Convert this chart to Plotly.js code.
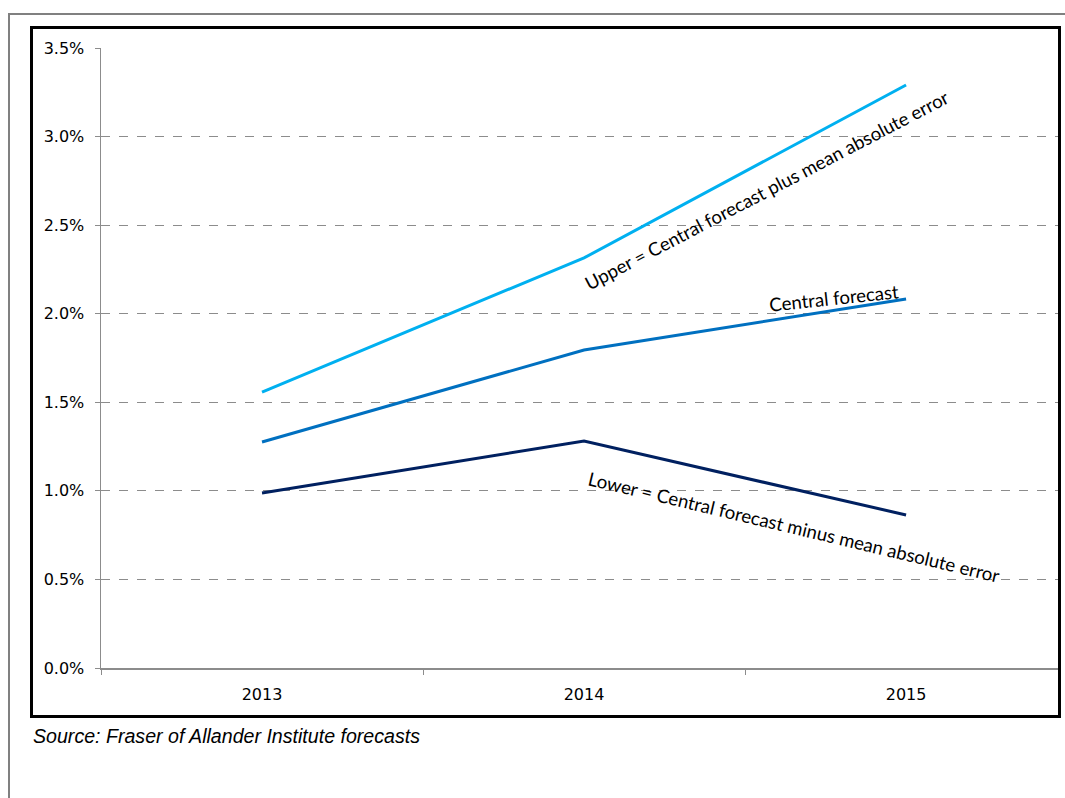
<!DOCTYPE html>
<html>
<head>
<meta charset="utf-8">
<script src="https://cdn.plot.ly/plotly-3.0.1.min.js"></script>
<style>
  html, body { margin: 0; padding: 0; background: #ffffff; }
  #wrap { position: relative; width: 1065px; height: 798px; overflow: hidden; }
  #chart { position: absolute; left: 0; top: 0; width: 1065px; height: 798px; }
  .frame { position: absolute; pointer-events: none; box-sizing: border-box; }
  #outer { left: 8px; top: 13px; width: 1100px; height: 820px; border: 2px solid #808080; }
  #inner { left: 30px; top: 26px; width: 1031px; height: 692px; border: 3px solid #000000; }
</style>
</head>
<body>
<div id="wrap">
  <div id="chart"></div>
  <div id="outer" class="frame"></div>
  <div id="inner" class="frame"></div>
</div>
<script>
// Data (fractions; axis formatted as %)
const years = ['2013', '2014', '2015'];
const upper = [0.01558, 0.02315, 0.03291];
const central = [0.01276, 0.01795, 0.02083];
const lower = [0.00988, 0.01281, 0.00864];
const yTicks = [0, 0.005, 0.01, 0.015, 0.02, 0.025, 0.03, 0.035];

const lineStyle = (c) => ({ color: c, width: 3 });

const traces = [
  { x: years, y: upper, type: 'scatter', mode: 'lines', line: lineStyle('#00B0F0'), name: 'Upper', hoverinfo: 'skip' },
  { x: years, y: central, type: 'scatter', mode: 'lines', line: lineStyle('#0070C0'), name: 'Central', hoverinfo: 'skip' },
  { x: years, y: lower, type: 'scatter', mode: 'lines', line: lineStyle('#002060'), name: 'Lower', hoverinfo: 'skip' }
];

const annFont = { family: 'Lato, Carlito, "Open Sans", sans-serif', size: 18.6, color: '#000000' };
const tickFont = { family: '"DejaVu Sans", Verdana, sans-serif', size: 16, color: '#000000' };

const layout = {
  width: 1065,
  height: 798,
  margin: { l: 101, r: 5, t: 48, b: 130, pad: 0 },
  paper_bgcolor: '#ffffff',
  plot_bgcolor: '#ffffff',
  showlegend: false,
  xaxis: {
    type: 'category',
    categoryarray: years,
    range: [-0.5, 2.478],
    showgrid: false,
    zeroline: false,
    showline: true,
    linecolor: '#8c8c8c',
    linewidth: 1.5,
    ticks: 'outside',
    tickson: 'boundaries',
    ticklen: 5,
    tickcolor: '#8c8c8c',
    tickwidth: 1,
    ticklabelstandoff: 11,
    tickfont: tickFont,
    fixedrange: true
  },
  yaxis: {
    range: [0, 0.035],
    tickvals: yTicks,
    tickformat: '.1%',
    showgrid: true,
    gridcolor: '#8c8c8c',
    griddash: 'dash',
    gridwidth: 1,
    zeroline: false,
    showline: true,
    linecolor: '#8c8c8c',
    linewidth: 1.5,
    ticks: 'outside',
    ticklen: 5,
    tickcolor: '#8c8c8c',
    tickwidth: 1,
    ticklabelstandoff: 7,
    tickfont: tickFont,
    fixedrange: true
  },
  annotations: [
    {
      x: 1.568, y: 0.02698, xref: 'x', yref: 'y',
      text: 'Upper = Central forecast plus mean absolute error',
      showarrow: false, textangle: -27.6, xanchor: 'center', yanchor: 'middle',
      font: annFont
    },
    {
      x: 1.776, y: 0.0209, xref: 'x', yref: 'y',
      text: 'Central forecast',
      showarrow: false, textangle: -6, xanchor: 'center', yanchor: 'middle',
      font: annFont
    },
    {
      x: 1.652, y: 0.00796, xref: 'x', yref: 'y',
      text: 'Lower = Central forecast minus mean absolute error',
      showarrow: false, textangle: 13.4, xanchor: 'center', yanchor: 'middle',
      font: annFont
    },
    {
      x: -0.0735, y: -0.1097, xref: 'paper', yref: 'paper',
      text: 'Source: Fraser of Allander Institute forecasts',
      showarrow: false, xanchor: 'left', yanchor: 'middle',
      font: { family: '"Liberation Sans Narrow", "Liberation Sans", Arial, sans-serif', size: 19.6, color: '#000000', style: 'italic' }
    }
  ]
};

Plotly.newPlot('chart', traces, layout, { staticPlot: true, displayModeBar: false });
</script>
</body>
</html>
